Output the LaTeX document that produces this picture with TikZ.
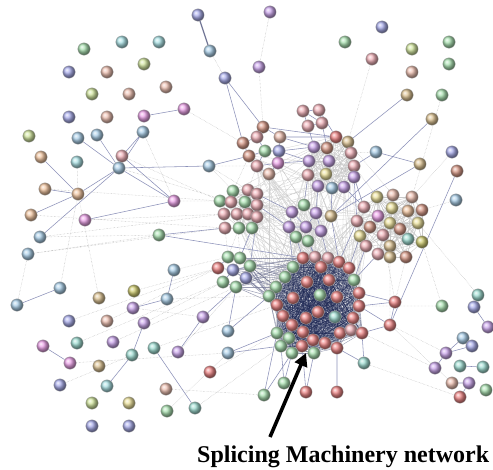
\documentclass[tikz,border=0pt]{standalone}
\usepackage{fontspec}
\setmainfont{Liberation Serif}
\usetikzlibrary{arrows.meta}
\pgfdeclarelayer{bg}
\pgfdeclarelayer{edges}
\pgfsetlayers{bg,edges,main}
\definecolor{sred}{RGB}{232,90,90}
\definecolor{spink}{RGB}{236,150,160}
\definecolor{sgreen}{RGB}{140,215,150}
\definecolor{sblue}{RGB}{140,145,230}
\definecolor{slblue}{RGB}{140,190,225}
\definecolor{scyan}{RGB}{140,215,220}
\definecolor{spurple}{RGB}{185,135,230}
\definecolor{smag}{RGB}{230,130,225}
\definecolor{sorange}{RGB}{235,175,125}
\definecolor{speach}{RGB}{232,170,150}
\definecolor{stan}{RGB}{210,175,110}
\definecolor{syellow}{RGB}{230,215,120}
\definecolor{sygreen}{RGB}{195,222,125}
\definecolor{sbrown}{RGB}{205,120,95}
\definecolor{steal}{RGB}{125,210,195}
\definecolor{solive}{RGB}{190,185,60}
\definecolor{edgecol}{RGB}{140,145,185}
\definecolor{densecol}{RGB}{30,40,85}
\tikzset{
  gn/.style={circle,minimum size=12.5pt,inner sep=0pt,draw=black!30,line width=0.3pt},
  ed/.style={draw=edgecol,line width=0.55pt},
  edt/.style={draw=edgecol!80!black,line width=1.2pt},
  edd/.style={draw=black!32,line width=0.4pt,densely dotted},
  edl/.style={draw=black!22,line width=0.35pt},
  edf/.style={draw=black!18,line width=0.3pt},
  dense/.style={draw=densecol,line width=0.35pt,opacity=0.5},
}
\newcommand\gnode[4]{\node[gn,ball color=#4!72!white] (#1) at (#2,#3) {};}
\begin{document}
\begin{tikzpicture}[x=1pt,y=-1pt]
\useasboundingbox (0,0) rectangle (493,469);
\begin{pgfonlayer}{bg}
\fill[white] (0,0) rectangle (493,469);
\end{pgfonlayer}
% scattered left/top
\gnode{a1}{198}{15}{sblue}
\gnode{a2}{210}{51}{slblue}
\gnode{a3}{225}{78}{sblue}
\gnode{a4}{84}{49}{sgreen}
\gnode{a5}{122}{42}{scyan}
\gnode{a6}{159}{42}{scyan}
\gnode{a7}{69}{72}{sblue}
\gnode{a8}{107}{72}{speach}
\gnode{a9}{144}{64}{sygreen}
\gnode{a10}{92}{94}{sygreen}
\gnode{a11}{129}{94}{speach}
\gnode{a12}{166}{87}{speach}
\gnode{a13}{69}{117}{sblue}
\gnode{a14}{107}{117}{speach}
\gnode{a15}{144}{116}{smag}
\gnode{a16}{184}{109}{smag}
\gnode{a17}{29}{136}{sygreen}
\gnode{a18}{78}{138}{slblue}
\gnode{a19}{97}{135}{slblue}
\gnode{a20}{143}{132}{slblue}
\gnode{a21}{41}{157}{sorange}
\gnode{a22}{77}{162}{scyan}
\gnode{a23}{122}{156}{spink}
\gnode{a24}{119}{168}{slblue}
\gnode{a25}{209}{166}{slblue}
\gnode{a26}{45}{189}{sorange}
\gnode{a27}{78}{194}{sorange}
\gnode{a28}{174}{201}{smag}
\gnode{a29}{31}{215}{sorange}
\gnode{a30}{85}{220}{smag}
\gnode{a31}{40}{237}{slblue}
\gnode{a32}{159}{235}{sgreen}
% lower left
\gnode{b1}{28}{254}{slblue}
\gnode{b2}{60}{288}{slblue}
\gnode{b3}{17}{305}{slblue}
\gnode{b4}{99}{298}{stan}
\gnode{b5}{134}{291}{solive}
\gnode{b6}{174}{270}{slblue}
\gnode{b7}{167}{299}{slblue}
\gnode{b8}{133}{308}{spurple}
\gnode{b9}{69}{321}{sblue}
\gnode{b10}{107}{321}{speach}
\gnode{b11}{144}{323}{spurple}
\gnode{b12}{203}{317}{spurple}
\gnode{b13}{43}{346}{smag}
\gnode{b14}{77}{343}{steal}
\gnode{b15}{113}{342}{spurple}
\gnode{b16}{132}{355}{steal}
\gnode{b17}{154}{348}{steal}
\gnode{b18}{178}{352}{spurple}
\gnode{b19}{228}{331}{slblue}
\gnode{b20}{228}{353}{slblue}
\gnode{b21}{210}{372}{sred}
\gnode{b22}{70}{363}{smag}
\gnode{b23}{99}{366}{stan}
\gnode{b24}{60}{385}{sblue}
\gnode{b25}{107}{386}{scyan}
\gnode{b26}{166}{389}{speach}
\gnode{b27}{92}{403}{sygreen}
\gnode{b28}{129}{403}{syellow}
\gnode{b29}{167}{411}{sgreen}
\gnode{b30}{195}{408}{steal}
\gnode{b31}{92}{426}{sblue}
\gnode{b32}{129}{426}{sblue}
% top right
\gnode{c1}{270}{12}{spurple}
\gnode{c2}{259}{67}{spurple}
\gnode{c3}{382}{27}{sblue}
\gnode{c4}{345}{42}{sgreen}
\gnode{c5}{412}{49}{sygreen}
\gnode{c6}{449}{42}{sgreen}
\gnode{c7}{372}{59}{spink}
\gnode{c8}{412}{72}{speach}
\gnode{c9}{449}{64}{sgreen}
\gnode{c10}{407}{95}{stan}
\gnode{c11}{442}{95}{sgreen}
\gnode{c12}{432}{119}{stan}
\gnode{c13}{452}{152}{sblue}
\gnode{c14}{457}{171}{sbrown}
\gnode{c15}{420}{164}{stan}
\gnode{c16}{456}{200}{slblue}
\gnode{c17}{376}{152}{slblue}
% right-bottom
\gnode{h1}{395}{302}{sred}
\gnode{h2}{390}{325}{sred}
\gnode{h3}{364}{363}{steal}
\gnode{h4}{442}{306}{sgreen}
\gnode{h5}{478}{295}{steal}
\gnode{h6}{474}{307}{sblue}
\gnode{h7}{488}{327}{spurple}
\gnode{h8}{463}{338}{slblue}
\gnode{h9}{472}{346}{sblue}
\gnode{h10}{446}{353}{spurple}
\gnode{h11}{435}{368}{spurple}
\gnode{h12}{460}{366}{steal}
\gnode{h13}{483}{367}{steal}
\gnode{h14}{452}{383}{speach}
\gnode{h15}{469}{383}{spurple}
\gnode{h16}{460}{397}{sred}
\gnode{h17}{486}{390}{sgreen}
% bottom
\gnode{i1}{284}{383}{sgreen}
\gnode{i2}{264}{395}{sgreen}
\gnode{i3}{306}{392}{sred}
\gnode{i4}{337}{392}{sred}
% top pink cluster
\gnode{d1}{303}{111}{spink}
\gnode{d2}{319}{110}{spink}
\gnode{d3}{308}{126}{spink}
\gnode{d4}{322}{123}{spink}
\gnode{d5}{263}{127}{sbrown}
\gnode{d6}{257}{137}{spink}
\gnode{d7}{280}{137}{speach}
\gnode{d8}{243}{143}{sbrown}
\gnode{d9}{249}{156}{sbrown}
\gnode{d10}{265}{151}{sgreen}
\gnode{d11}{279}{151}{sblue}
\gnode{d12}{257}{166}{spink}
\gnode{d13}{278}{163}{smag}
\gnode{d14}{269}{174}{speach}
\gnode{d15}{314}{147}{spurple}
\gnode{d16}{327}{148}{sbrown}
\gnode{d17}{336}{137}{sred}
\gnode{d18}{348}{142}{stan}
\gnode{d19}{351}{153}{spink}
\gnode{d20}{354}{166}{spink}
\gnode{d21}{354}{177}{spurple}
\gnode{d22}{344}{187}{spurple}
\gnode{d23}{332}{188}{slblue}
\gnode{d24}{318}{186}{spurple}
\gnode{d25}{308}{175}{spink}
\gnode{d26}{309}{161}{spurple}
\gnode{d27}{326}{174}{syellow}
\gnode{d28}{329}{161}{spurple}
% left-middle cluster
\gnode{e1}{233}{191}{sgreen}
\gnode{e2}{248}{190}{spink}
\gnode{e3}{257}{194}{spink}
\gnode{e4}{220}{201}{sgreen}
\gnode{e5}{231}{202}{spink}
\gnode{e6}{245}{202}{sgreen}
\gnode{e7}{257}{205}{spink}
\gnode{e8}{224}{214}{spink}
\gnode{e9}{237}{214}{spink}
\gnode{e10}{248}{214}{spink}
\gnode{e11}{257}{217}{spink}
\gnode{e12}{225}{228}{spink}
\gnode{e13}{239}{228}{sgreen}
\gnode{e14}{252}{228}{sgreen}
% middle purple group
\gnode{g1}{304}{205}{sgreen}
\gnode{g2}{292}{212}{spurple}
\gnode{g3}{316}{213}{spurple}
\gnode{g4}{331}{216}{stan}
\gnode{g5}{289}{227}{spurple}
\gnode{g6}{306}{227}{spurple}
\gnode{g7}{321}{231}{spurple}
\gnode{g8}{296}{237}{sgreen}
\gnode{g9}{308}{241}{sgreen}
% right orange cluster
\gnode{f1}{377}{197}{syellow}
\gnode{f2}{393}{195}{speach}
\gnode{f3}{412}{197}{speach}
\gnode{f4}{364}{207}{spink}
\gnode{f5}{392}{208}{syellow}
\gnode{f6}{408}{211}{sorange}
\gnode{f7}{422}{210}{sbrown}
\gnode{f8}{378}{216}{smag}
\gnode{f9}{357}{221}{spink}
\gnode{f10}{370}{227}{sbrown}
\gnode{f11}{390}{223}{syellow}
\gnode{f12}{400}{229}{sbrown}
\gnode{f13}{418}{223}{syellow}
\gnode{f14}{360}{236}{syellow}
\gnode{f15}{383}{235}{spink}
\gnode{f16}{408}{239}{steal}
\gnode{f17}{422}{242}{solive}
\gnode{f18}{366}{246}{spink}
\gnode{f19}{390}{246}{stan}
\gnode{f20}{378}{254}{spink}
\gnode{f21}{390}{257}{stan}
\gnode{f22}{406}{257}{sbrown}
% left of red cluster
\gnode{l1}{228}{257}{sgreen}
\gnode{l2}{240}{258}{sgreen}
\gnode{l3}{218}{268}{sred}
\gnode{l4}{233}{270}{sblue}
\gnode{l5}{250}{266}{sgreen}
\gnode{l6}{223}{282}{sgreen}
\gnode{l7}{236}{287}{sgreen}
\gnode{l8}{246}{278}{sblue}
% red cluster
\gnode{r1}{303}{258}{sred}
\gnode{r2}{315}{257}{spink}
\gnode{r3}{328}{258}{spink}
\gnode{r4}{339}{262}{sred}
\gnode{r5}{349}{268}{sred}
\gnode{r6}{321}{267}{sred}
\gnode{r7}{293}{267}{sgreen}
\gnode{r8}{285}{277}{sgreen}
\gnode{r9}{307}{282}{sred}
\gnode{r10}{329}{280}{sred}
\gnode{r11}{354}{280}{sgreen}
\gnode{r12}{276}{287}{sgreen}
\gnode{r13}{269}{296}{sgreen}
\gnode{r14}{293}{298}{sred}
\gnode{r15}{320}{295}{sgreen}
\gnode{r16}{337}{297}{sred}
\gnode{r17}{359}{293}{sred}
\gnode{r18}{277}{305}{sred}
\gnode{r19}{359}{306}{sred}
\gnode{r20}{318}{312}{sred}
\gnode{r21}{306}{318}{sred}
\gnode{r22}{335}{317}{steal}
\gnode{r23}{353}{318}{sred}
\gnode{r24}{283}{316}{sred}
\gnode{r25}{292}{325}{sred}
\gnode{r26}{277}{333}{sgreen}
\gnode{r27}{289}{338}{sgreen}
\gnode{r28}{313}{340}{sred}
\gnode{r29}{325}{343}{sred}
\gnode{r30}{340}{333}{sred}
\gnode{r31}{351}{330}{spink}
\gnode{r32}{362}{333}{sred}
\gnode{r33}{281}{346}{sgreen}
\gnode{r34}{302}{346}{sred}
\gnode{r35}{292}{353}{sgreen}
\gnode{r36}{314}{353}{sgreen}
\gnode{r37}{337}{348}{sred}
\gnode{r38}{303}{332}{sred}
% ---------- edges (behind nodes) ----------
\begin{pgfonlayer}{edges}
% faint web between clusters
\foreach \p in {d15,d19,d22,d24,d26,e2,e6,e9,e13,f4,f9,f14,f18,g1,g3,g6,g8,d12,d14}{
  \foreach \q in {r2,r5,r9,r13,r17,r24,r30}{\draw[edf] (\p) -- (\q);}
}
\foreach \p in {e1,e5,e10,e14,d9,d13}{
  \foreach \q in {d17,d20,d23,g2,g7,f8}{\draw[edf] (\p) -- (\q);}
}
\foreach \p [count=\i] in {r1,r2,r3,r4,r5,r6,r7,r8,r9,r10,r11,r12,r13,r14,r15,r16,r17,r18,r19,r20,r21,r22,r23,r24,r25,r26,r27,r28,r29,r30,r31,r32,r33,r34,r35,r36,r37,r38}{
  \foreach \q [count=\j] in {r1,r2,r3,r4,r5,r6,r7,r8,r9,r10,r11,r12,r13,r14,r15,r16,r17,r18,r19,r20,r21,r22,r23,r24,r25,r26,r27,r28,r29,r30,r31,r32,r33,r34,r35,r36,r37,r38}{
    \ifnum\j>\i \draw[dense] (\p) -- (\q); \fi
  }
}
\foreach \p [count=\i] in {d15,d16,d17,d18,d19,d20,d21,d22,d23,d24,d25,d26,d27,d28}{
  \foreach \q [count=\j] in {d15,d16,d17,d18,d19,d20,d21,d22,d23,d24,d25,d26,d27,d28}{
    \ifnum\j>\i \draw[edl] (\p) -- (\q); \fi
  }
}
\foreach \p [count=\i] in {e1,e2,e3,e4,e5,e6,e7,e8,e9,e10,e11,e12,e13,e14}{
  \foreach \q [count=\j] in {e1,e2,e3,e4,e5,e6,e7,e8,e9,e10,e11,e12,e13,e14}{
    \ifnum\j>\i \ifodd\j \draw[edl] (\p) -- (\q); \fi\fi
  }
}
\foreach \p [count=\i] in {f1,f2,f3,f4,f5,f6,f7,f8,f9,f10,f11,f12,f13,f14,f15,f16,f17,f18,f19,f20,f21,f22}{
  \foreach \q [count=\j] in {f1,f2,f3,f4,f5,f6,f7,f8,f9,f10,f11,f12,f13,f14,f15,f16,f17,f18,f19,f20,f21,f22}{
    \ifnum\j>\i \ifodd\i \draw[edl] (\p) -- (\q); \fi\fi
  }
}
\draw[ed] (d1)--(d2) (d1)--(d3) (d2)--(d4) (d3)--(d4) (d1)--(d4);
\draw[ed] (d5)--(d6) (d5)--(d7) (d6)--(d8) (d8)--(d9) (d9)--(d10) (d10)--(d11) (d11)--(d7) (d6)--(d10) (d12)--(d13) (d13)--(d14) (d12)--(d14) (d7)--(d13) (d10)--(d12) (d11)--(d13) (d9)--(d12);
\draw[ed] (d7)--(d15) (d11)--(d26) (d7)--(d17) (d5)--(d17) (d13)--(d26) (d11)--(d15);
\draw[ed] (g1)--(g2) (g1)--(g3) (g2)--(g5) (g3)--(g6) (g5)--(g6) (g6)--(g7) (g5)--(g8) (g8)--(g9) (g3)--(g7) (g2)--(g6);
\draw[ed] (l1)--(l2) (l1)--(l3) (l2)--(l5) (l3)--(l4) (l4)--(l5) (l4)--(l6) (l6)--(l7) (l7)--(l8) (l5)--(l8) (l2)--(l4);
\foreach \p in {l2,l5,l8,l7,l4}{\foreach \q in {r7,r8,r12,r13,r18,r1}{\draw[edgecol!80!black,line width=0.5pt,opacity=0.7] (\p)--(\q);}}
\draw[edt] (a1)--(a2);
\draw[edd] (a2)--(a3);
\draw[ed] (a3)--(d5) (a3)--(d8);
\draw[ed] (a15)--(a16) (a20)--(a23) (a24)--(a18) (a24)--(a19) (a24)--(a20) (a24)--(a25) (a24)--(a28) (a24)--(a31) (a28)--(a23);
\draw[ed] (a27)--(a21) (a27)--(a26) (a27)--(a29) (a27)--(a24) (a30)--(a28) (a25)--(d9) (a32)--(e12) (a32)--(r1);
\draw[ed] (b2)--(b3) (b13)--(b22) (b11)--(b16) (b16)--(b25) (b17)--(b30) (b6)--(b7) (b12)--(b18) (b8)--(b7);
\draw[ed] (c17)--(c15) (c10)--(d18) (c15)--(g4) (c12)--(g4) (c14)--(h2) (c17)--(d20);
\draw[ed] (h5)--(h6) (h6)--(h7) (h8)--(h9) (h9)--(h10) (h10)--(h11) (h12)--(h13) (h14)--(h15) (h15)--(h16) (h8)--(h10);
\draw[ed] (h1)--(r17) (h1)--(r19) (h2)--(r19) (h2)--(r32) (h1)--(h2) (h3)--(r32) (h3)--(r37);
\draw[ed] (i1)--(r33) (i2)--(r35) (i3)--(r36) (i4)--(r37) (i1)--(r35) (i3)--(r34) (i2)--(r26);
\draw[ed] (b19)--(r13) (b20)--(r26) (b12)--(l7) (b19)--(l7) (b20)--(r33);
\draw[ed] (g8)--(r1) (g9)--(r2) (g7)--(r3) (g4)--(r4) (g9)--(r6) (g5)--(r7);
\draw[ed] (d23)--(g4) (d24)--(g3) (d22)--(f4) (d21)--(f9) (d25)--(g1) (e3)--(g2) (e7)--(g5) (e14)--(l2) (e11)--(l5);
\draw[ed] (f14)--(r5) (f18)--(r11) (f20)--(r11) (f9)--(r4) (f4)--(d21);
\draw[ed] (d3)--(d15) (d4)--(d16) (d2)--(d17);
\draw[edd] (c2)--(d5);
\draw[edd] (c1)--(c2) (c7)--(d18) (a28)--(e4) (a25)--(e1) (a32)--(b1) (a32)--(a31) (b1)--(e12) (a31)--(e8);
\draw[edd] (b5)--(l3) (b6)--(l1) (b7)--(r13) (b8)--(b12) (b11)--(l6) (b17)--(r18) (b18)--(l7) (b10)--(l3);
\draw[edd] (b21)--(r26) (b30)--(r33) (b29)--(b20) (b26)--(i2) (b24)--(b16) (b4)--(a27) (b2)--(a27);
\draw[edd] (h4)--(r19) (h10)--(h2) (h11)--(r32) (h14)--(h2) (h16)--(h3) (c16)--(f7) (c13)--(f3) (c11)--(f3);
\draw[edd] (a25)--(d12) (a25)--(e2) (a20)--(a28) (a16)--(d8) (a23)--(e4) (a22)--(a27) (a24)--(e5);
\draw[edd] (e6)--(g2) (e10)--(g5) (e14)--(r7) (e13)--(l1) (e12)--(l1) (e9)--(l2);
\draw[edd] (d14)--(e3) (d12)--(e2) (d13)--(g1) (d14)--(g2) (d9)--(e1);
\draw[edd] (f10)--(r11) (f15)--(h1) (f22)--(h1) (f19)--(h2) (f17)--(h4) (f13)--(h5);
\draw[edd] (a30)--(e8) (a29)--(e12) (a26)--(e4) (b3)--(b1) (b9)--(l3) (b14)--(l6) (b15)--(l7) (b22)--(b20);
\draw[edd] (g8)--(l5) (g9)--(f14) (g7)--(f9) (g4)--(f4) (d24)--(e7) (d25)--(e3);
\draw[edd] (d19)--(c17) (d20)--(f1) (d21)--(f4) (d18)--(f2);
\end{pgfonlayer}
% arrow and caption
\coordinate (atail) at (270,437);
\coordinate (atip) at (306,353);
\draw[line width=3.6pt,-{Triangle[length=13pt,width=13pt]}] (atail) -- (atip);
\node[anchor=base west,inner sep=0pt,font=\fontsize{24}{24}\selectfont\bfseries] (cap) at (197,462) {Splicing Machinery network};
\end{tikzpicture}
\end{document}
